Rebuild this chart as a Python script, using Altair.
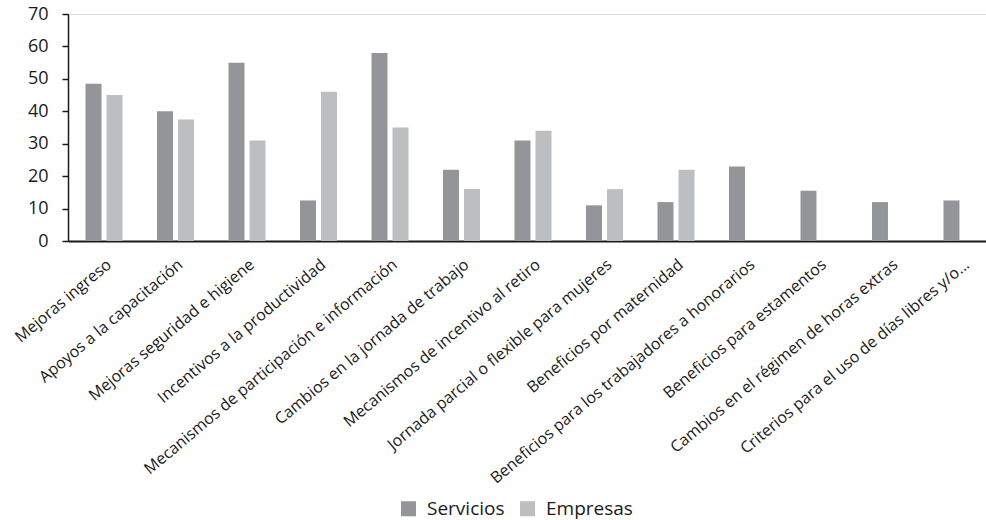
import altair as alt
import pandas as pd

categorias = [
    "Mejoras ingreso",
    "Apoyos a la capacitación",
    "Mejoras seguridad e higiene",
    "Incentivos a la productividad",
    "Mecanismos de participación e información",
    "Cambios en la jornada de trabajo",
    "Mecanismos de incentivo al retiro",
    "Jornada parcial o flexible para mujeres",
    "Beneficios por maternidad",
    "Beneficios para los trabajadores a honorarios",
    "Beneficios para estamentos",
    "Cambios en el régimen de horas extras",
    "Criterios para el uso de días libres y/o...",
]
servicios = [48.5, 40, 55, 12.5, 58, 22, 31, 11, 12, 23, 15.5, 12, 12.5]
empresas = [45, 37.5, 31, 46, 35, 16, 34, 16, 22, None, None, None, None]
series = ["Servicios", "Empresas"]
colores = ["#939598", "#bcbec0"]

rows = []
for c, s, e in zip(categorias, servicios, empresas):
    rows.append({"cat": c, "serie": "Servicios", "valor": s})
    if e is not None:
        rows.append({"cat": c, "serie": "Empresas", "valor": e})
df = pd.DataFrame(rows)

FONT = "Open Sans"

chart = alt.Chart(df).mark_bar().encode(
    x=alt.X(
        "cat:N",
        sort=categorias,
        scale=alt.Scale(range=[0, 930], paddingInner=0.4825, paddingOuter=0.245),
        axis=alt.Axis(
            title=None,
            labelAngle=-40,
            ticks=False,
            labelPadding=15,
            labelFontSize=16,
            labelFont=FONT,
            labelColor="#1a1a1a",
            labelLimit=0,
            domainColor="#1a1a1a",
            domainWidth=2,
        ),
    ),
    xOffset=alt.XOffset(
        "serie:N",
        sort=series,
        scale=alt.Scale(domain=series, paddingInner=0.24, paddingOuter=0),
    ),
    y=alt.Y(
        "valor:Q",
        scale=alt.Scale(domain=[0, 70]),
        axis=alt.Axis(
            title=None,
            values=[0, 10, 20, 30, 40, 50, 60, 70],
            grid=False,
            tickSize=6,
            tickColor="#1a1a1a",
            tickWidth=1.5,
            domainColor="#1a1a1a",
            domainWidth=1.5,
            labelPadding=14,
            labelFontSize=18,
            labelFont=FONT,
            labelColor="#1a1a1a",
        ),
    ),
    color=alt.Color(
        "serie:N",
        sort=series,
        scale=alt.Scale(domain=series, range=colores),
        legend=alt.Legend(
            title=None,
            orient="none",
            direction="horizontal",
            legendX=331,
            legendY=485,
            symbolType="square",
            symbolSize=225,
            symbolStrokeWidth=0,
            symbolOpacity=1,
            labelFontSize=19,
            labelFont=FONT,
            labelColor="#1a1a1a",
            labelOffset=9,
            columnPadding=13,
            padding=0,
        ),
    ),
).properties(
    width=918,
    height=227,
    autosize=alt.AutoSizeParams(type="none"),
    padding={"left": 68, "top": 14, "right": 0, "bottom": 279},
).configure_view(stroke=None).configure(background="white")

chart.save("out.html", embed_options={"renderer": "svg", "actions": False})
